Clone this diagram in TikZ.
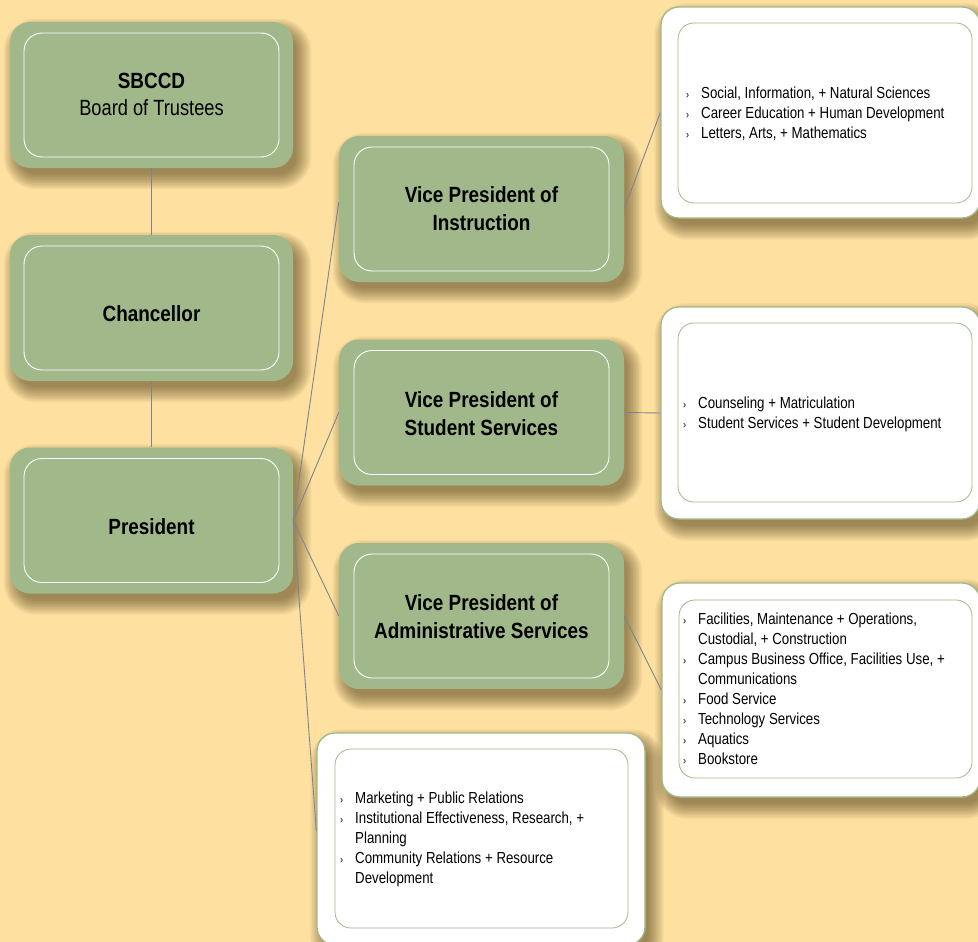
\documentclass[tikz,border=0pt]{standalone}
\usepackage{fontspec}
\setmainfont{Liberation Sans}[FakeStretch=0.83]
\newfontfamily\hdfont{Liberation Sans}[FakeStretch=0.86]
\definecolor{bg}{HTML}{FEE1A1}
\definecolor{gfill}{HTML}{A1B88A}
\definecolor{gline}{HTML}{9FBA88}
\definecolor{conn}{HTML}{80838F}
\definecolor{shcol}{HTML}{3A2A08}
\pgfdeclarelayer{shadowlayer}
\pgfsetlayers{shadowlayer,main}
\newcommand\itm[1]{\makebox[15pt][l]{\fontsize{11}{11}\selectfont ›}#1}
\newcommand\cnt[1]{\hspace*{15pt}#1}
\newcommand\boxshadow[1]{%
  \foreach \i in {0,...,10}{%
    \pgfmathsetmacro\e{\i*1.5-3}%
    \fill[shcol, opacity=0.055, rounded corners={20pt+\e pt}]
      ([shift={(6-\e,9-\e)}]#1.north west) rectangle ([shift={(6+\e,9+\e)}]#1.south east);
  }}
\tikzset{
  gbox/.style={shape=rectangle, fill=gfill, rounded corners=20pt, inner sep=0pt, minimum width=283pt, minimum height=146pt},
  ginner/.style={shape=rectangle, draw=white, line width=0.9pt, rounded corners=18pt, inner sep=0pt, minimum width=255pt, minimum height=124pt},
  wbox/.style={shape=rectangle, fill=white, draw=gline, line width=1.3pt, rounded corners=18pt, inner sep=0pt},
  winner/.style={shape=rectangle, draw=gline, line width=0.8pt, rounded corners=16pt, inner sep=0pt},
  ttl/.style={align=center, inner sep=0pt, font=\hdfont\bfseries\fontsize{22}{28}\selectfont},
  lst/.style={align=left, inner sep=0pt, anchor=west, font=\fontsize{16}{20}\selectfont},
  cline/.style={draw=conn, line width=0.9pt}
}
\begin{document}
\begin{tikzpicture}[x=1pt,y=-1pt]
\useasboundingbox (0,0) rectangle (978,942);
\begin{pgfonlayer}{shadowlayer}
\fill[bg] (0,0) rectangle (978,942);
\end{pgfonlayer}

% green boxes
\node[gbox] (sb) at (151.5,95) {};
\node[ginner] (sbi) at (sb.center) {};
\node[gbox] (ch) at (151.5,308) {};
\node[ginner] (chi) at (ch.center) {};
\node[gbox] (pr) at (151.5,520.5) {};
\node[ginner] (pri) at (pr.center) {};
\node[gbox, minimum width=285pt] (vpi) at (481.5,209) {};
\node[ginner] (vpii) at (vpi.center) {};
\node[gbox, minimum width=285pt] (vps) at (481.5,412.5) {};
\node[ginner] (vpsi) at (vps.center) {};
\node[gbox, minimum width=285pt] (vpa) at (481.5,616) {};
\node[ginner] (vpai) at (vpa.center) {};

% titles
\node[align=center, inner sep=0pt, font=\fontsize{22}{27}\selectfont] (sbt) at (151.5,94.5) {{\hdfont\bfseries SBCCD}\\Board of Trustees};
\node[ttl] (cht) at (151.5,314) {Chancellor};
\node[ttl] (prt) at (151.5,527) {President};
\node[ttl] (vpit) at (481.5,209) {Vice President of\\Instruction};
\node[ttl] (vpst) at (481.5,414) {Vice President of\\Student Services};
\node[ttl] (vpat) at (481.5,616.5) {Vice President of\\Administrative Services};

% white boxes
\node[wbox, minimum width=319pt, minimum height=211pt] (w1) at (820.5,112.5) {};
\node[winner, minimum width=294pt, minimum height=180pt] (w1i) at (825,113) {};
\node[wbox, minimum width=319pt, minimum height=212pt] (w2) at (820.5,413) {};
\node[winner, minimum width=294pt, minimum height=179pt] (w2i) at (825,412.5) {};
\node[wbox, minimum width=318pt, minimum height=214pt] (w3) at (821,690) {};
\node[winner, minimum width=293pt, minimum height=178pt] (w3i) at (825.5,689) {};
\node[wbox, minimum width=328pt, minimum height=212pt] (w4) at (481,839) {};
\node[winner, minimum width=293pt, minimum height=179pt] (w4i) at (481.5,838.5) {};

% shadows
\begin{pgfonlayer}{shadowlayer}
\boxshadow{sb}\boxshadow{ch}\boxshadow{pr}
\boxshadow{vpi}\boxshadow{vps}\boxshadow{vpa}
\boxshadow{w1}\boxshadow{w2}\boxshadow{w3}\boxshadow{w4}
\end{pgfonlayer}

% lists
\node[lst] (l1) at (686,113.4) {\itm{Social, Information, + Natural Sciences}\\\itm{Career Education + Human Development}\\\itm{Letters, Arts, + Mathematics}};
\node[lst] (l2) at (683,414) {\itm{Counseling + Matriculation}\\\itm{Student Services + Student Development}};
\node[lst] (l3) at (683,689) {\itm{Facilities, Maintenance + Operations,}\\\cnt{Custodial, + Construction}\\\itm{Campus Business Office, Facilities Use, +}\\\cnt{Communications}\\\itm{Food Service}\\\itm{Technology Services}\\\itm{Aquatics}\\\itm{Bookstore}};
\node[lst] (l4) at (340,839) {\itm{Marketing + Public Relations}\\\itm{Institutional Effectiveness, Research, +}\\\cnt{Planning}\\\itm{Community Relations + Resource}\\\cnt{Development}};

% connectors
\draw[cline] (sb.south) -- (ch.north);
\draw[cline] (ch.south) -- (pr.north);
\draw[cline] (pr.east) -- ([yshift=7pt]vpi.west);
\draw[cline] (pr.east) -- (vps.west);
\draw[cline] (pr.east) -- (vpa.west);
\draw[cline] (pr.east) -- ([yshift=8pt]w4.west);
\draw[cline] (vpi.east) -- (w1.west);
\draw[cline] (vps.east) -- (w2.west);
\draw[cline] (vpa.east) -- (w3.west);
\end{tikzpicture}
\end{document}
